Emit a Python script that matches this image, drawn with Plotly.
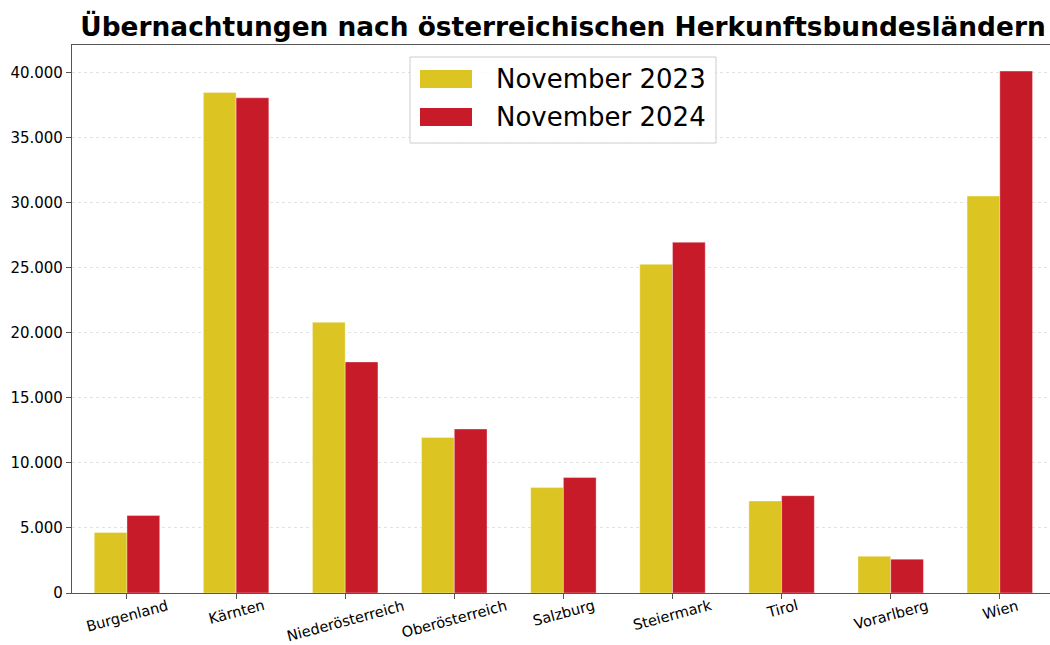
import plotly.graph_objects as go

categories = ["Burgenland", "Kärnten", "Niederösterreich", "Oberösterreich", "Salzburg",
              "Steiermark", "Tirol", "Vorarlberg", "Wien"]
nov_2023 = [4650, 38450, 20800, 11950, 8100, 25250, 7070, 2830, 30500]
nov_2024 = [5950, 38050, 17750, 12600, 8870, 26950, 7480, 2600, 40100]
series_names = ["November 2023", "November 2024"]
y_ticks = [0, 5000, 10000, 15000, 20000, 25000, 30000, 35000, 40000]

YELLOW = "#DCC522"
RED = "#C81B2A"

W, H = 1050, 645
L, R, T, B = 72, 0, 45, 52
PW, PH = W - L - R, H - T - B

def px_x(px):
    return (px - L) / PW

def px_y(py):
    return (H - B - py) / PH

fig = go.Figure()
fig.add_trace(go.Bar(x=list(range(len(categories))), y=nov_2023, name=series_names[0],
                     marker=dict(color=YELLOW, line=dict(color="rgba(255,255,255,0.6)", width=0.6))))
fig.add_trace(go.Bar(x=list(range(len(categories))), y=nov_2024, name=series_names[1],
                     marker=dict(color=RED, line=dict(color="rgba(255,255,255,0.6)", width=0.6))))

font_family = "DejaVu Sans"

fig.update_layout(
    width=W, height=H,
    margin=dict(l=L, r=R, t=T, b=B, pad=0, autoexpand=False),
    paper_bgcolor="white", plot_bgcolor="white",
    barmode="group", bargap=0.4, bargroupgap=0,
    showlegend=False,
    separators=",.",
    font=dict(family=font_family, color="black"),
    title=dict(text="<b>Übernachtungen nach österreichischen Herkunftsbundesländern</b>",
               x=563 / W, xanchor="center", y=1 - 27 / H, yanchor="middle",
               font=dict(size=26.4, family=font_family, color="black")),
)

fig.update_xaxes(
    range=[-0.504, 8.46], tickmode="array", tickvals=list(range(len(categories))),
    ticktext=["" for _ in categories], automargin=False,
    showline=True, mirror=True, linecolor="#555555", linewidth=1.2,
    ticks="outside", ticklen=5, tickcolor="#555555", showgrid=False, zeroline=False,
)
fig.update_yaxes(
    range=[0, 42105], tickmode="array", tickvals=y_ticks, tickformat=",d", automargin=False,
    showline=True, mirror=False, linecolor="#555555", linewidth=1.2,
    ticks="outside", ticklen=5, tickcolor="#555555",
    tickfont=dict(size=15, color="black"),
    showgrid=True, gridcolor="#e2e2e2", griddash="dot", gridwidth=1, zeroline=False,
)

# rotated category labels
for i, name in enumerate(categories):
    fig.add_annotation(x=i, xref="x", y=0, yref="paper", yanchor="top", xanchor="center",
                       yshift=-2, borderpad=0, text=name, textangle=-15, showarrow=False,
                       font=dict(size=14.6, family=font_family, color="black"))

# legend box
fig.add_shape(type="rect", xref="paper", yref="paper",
              x0=px_x(410), x1=px_x(716), y0=px_y(143), y1=px_y(57),
              line=dict(color="#cccccc", width=1), fillcolor="rgba(255,255,255,0.85)", layer="above")
for k, (nm, col) in enumerate(zip(series_names, [YELLOW, RED])):
    yc = 79 + 38 * k
    fig.add_shape(type="rect", xref="paper", yref="paper",
                  x0=px_x(420), x1=px_x(472), y0=px_y(yc + 9), y1=px_y(yc - 9),
                  line=dict(width=0), fillcolor=col, layer="above")
    fig.add_annotation(x=px_x(494), y=px_y(yc), xref="paper", yref="paper", xanchor="left",
                       yanchor="middle", text=nm, showarrow=False,
                       font=dict(size=26, family=font_family, color="black"))

fig.write_html("out.html", config={"displayModeBar": False},
               post_script="document.body.style.margin='0px';document.body.style.overflow='hidden';")
